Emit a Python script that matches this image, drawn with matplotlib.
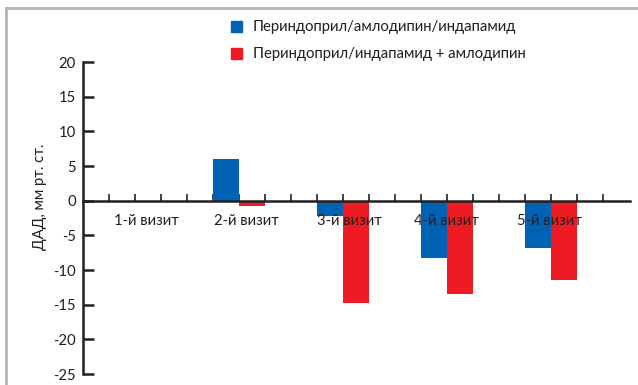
import matplotlib
matplotlib.use("Agg")
import matplotlib.pyplot as plt
from matplotlib.lines import Line2D

# data
visits = ["1-й визит", "2-й визит", "3-й визит", "4-й визит", "5-й визит"]
series_names = ["Периндоприл/амлодипин/индапамид", "Периндоприл/индапамид + амлодипин"]
triple = [0.0, 6.0, -2.2, -8.2, -6.8]
combo = [0.0, -0.7, -14.8, -13.4, -11.5]
y_ticks = [20, 15, 10, 5, 0, -5, -10, -15, -20, -25]

# layout
group_pos = [2, 6, 10, 14, 18]
label_pos = [2.45, 6.3, 10.25, 14.0, 17.95]
blue = "#0062b2"
red = "#ed1c24"
dark = "#231f20"
fs = 10.7

plt.rcParams["font.family"] = ["Lato", "DejaVu Sans"]

fig = plt.figure(figsize=(6.38, 3.85), dpi=100)
ax = fig.add_axes([82.7 / 638, 1 - 374 / 385, (630 - 82.7) / 638, (374 - 62) / 385])

ax.bar([p - 0.5 for p in group_pos], triple, width=1.0, color=blue, zorder=2)
ax.bar([p + 0.5 for p in group_pos], combo, width=1.0, color=red, zorder=2)

for x, lab in zip(label_pos, visits):
    ax.text(x, -3.0, lab, ha="center", va="center", color=dark, fontsize=fs, zorder=4)

ax.set_xlim(0, 21.05)
ax.set_ylim(-25, 20)
ax.set_yticks(y_ticks)
ax.set_yticklabels([str(v) for v in y_ticks])
ax.set_xticks(range(1, 21))
ax.set_xticklabels([])

for s in ["top", "right"]:
    ax.spines[s].set_visible(False)
ax.spines["bottom"].set_position(("data", 0))
ax.spines["bottom"].set_linewidth(1.8)
ax.spines["bottom"].set_color(dark)
ax.spines["bottom"].set_zorder(3)
ax.spines["left"].set_linewidth(1.8)
ax.spines["left"].set_color(dark)
ax.spines["left"].set_bounds(-25, 20)

ax.tick_params(axis="y", direction="in", length=8, width=1.8, color=dark,
               labelcolor=dark, pad=5, labelsize=fs)
ax.tick_params(axis="x", direction="in", length=5, width=1.2, color=dark)

fig.text(40 / 638, 1 - 197 / 385, "ДАД, мм рт. ст.", rotation=90,
         ha="center", va="center", color=dark, fontsize=fs)

# legend drawn by hand
leg_y = [27, 54]
for (yy, name, c) in zip(leg_y, series_names, [blue, red]):
    fig.patches.append(plt.Rectangle((231 / 638, 1 - (yy + 5) / 385), 11 / 638, 11 / 385,
                                     transform=fig.transFigure, color=c, figure=fig))
    fig.text(253 / 638, 1 - yy / 385, name, ha="left", va="center", color=dark, fontsize=fs)

# gray frame
fig.add_artist(Line2D([6 / 638, 6 / 638], [0, 1 - 8 / 385], color="#b4b4b4", lw=2))
fig.add_artist(Line2D([6 / 638, 1], [1 - 8 / 385, 1 - 8 / 385], color="#b4b4b4", lw=2))

fig.savefig("out.png", dpi=100)
